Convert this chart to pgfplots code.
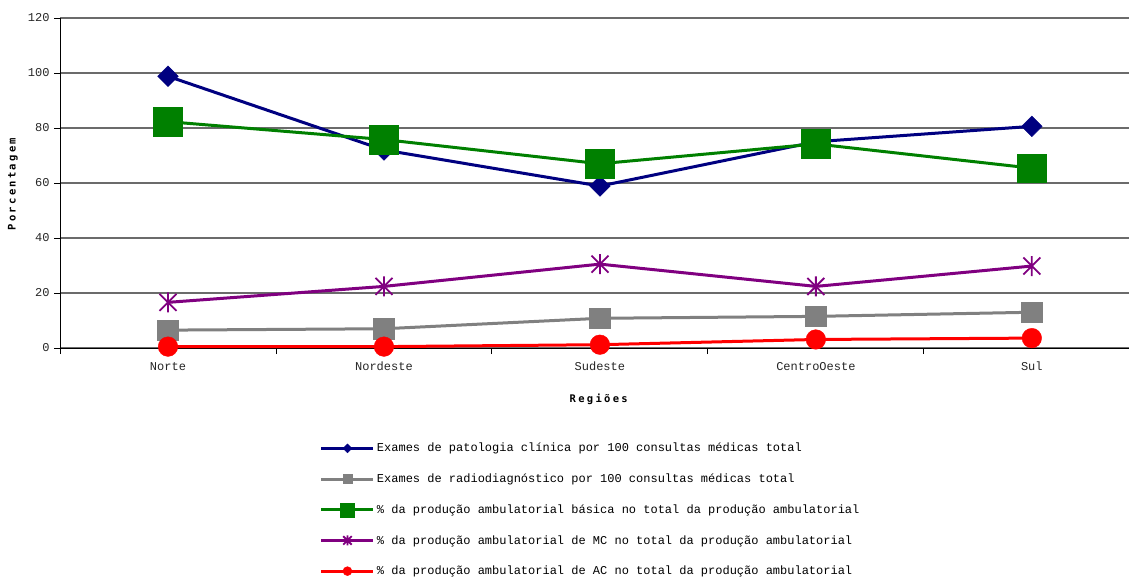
\documentclass[border=0pt]{standalone}
\usepackage{pgfplots}
\pgfplotsset{compat=1.18}
\usepackage{fontspec}
\setmainfont{Liberation Mono}
\newfontfamily\ticksfont{Liberation Mono}
\newfontfamily\labfont[LetterSpace=22]{DejaVu Sans Mono}

\definecolor{cBlue}{HTML}{000080}
\definecolor{cGray}{HTML}{808080}
\definecolor{cGreen}{HTML}{008000}
\definecolor{cPurple}{HTML}{800080}
\definecolor{cRed}{HTML}{FF0000}

% star marker: vertical bar plus a diagonal cross
\pgfdeclareplotmark{xstar}{%
  \pgfpathmoveto{\pgfqpoint{0pt}{\pgfplotmarksize}}%
  \pgfpathlineto{\pgfqpoint{0pt}{-\pgfplotmarksize}}%
  \pgfpathmoveto{\pgfqpoint{-.85\pgfplotmarksize}{.85\pgfplotmarksize}}%
  \pgfpathlineto{\pgfqpoint{.85\pgfplotmarksize}{-.85\pgfplotmarksize}}%
  \pgfpathmoveto{\pgfqpoint{-.85\pgfplotmarksize}{-.85\pgfplotmarksize}}%
  \pgfpathlineto{\pgfqpoint{.85\pgfplotmarksize}{.85\pgfplotmarksize}}%
  \pgfusepathqstroke
}

\pgfplotsset{
  legline/.style={
    legend image code/.code={
      \draw[##1,mark=none] (0pt,0pt) -- (52pt,0pt);
      \draw[##1,only marks,mark size=#1] plot coordinates {(26pt,0pt)};
    }
  }
}

\begin{document}
\begin{tikzpicture}
\useasboundingbox (0,0) rectangle (1129pt,581pt);
\begin{axis}[
  at={(60pt,233pt)}, anchor=south west,
  scale only axis,
  width=1069pt, height=330pt,
  xmin=-0.5, xmax=4.45,
  ymin=0, ymax=120,
  axis x line=bottom, axis y line=left,
  axis line style={black, line width=0.9pt, -},
  xtick={0,1,2,3,4},
  xticklabels={Norte,Nordeste,Sudeste,CentroOeste,Sul},
  major x tick style={draw=none},
  minor xtick={-0.5,0.5,1.5,2.5,3.5},
  minor x tick style={black, line width=0.9pt},
  minor tick length=6pt,
  ytick={0,20,...,120},
  y tick style={black, line width=0.9pt},
  major tick length=6pt,
  tick align=outside,
  ymajorgrids,
  major grid style={black!58, line width=1.1pt},
  /pgf/number format/assume math mode=true,
  tick label style={font=\ticksfont\fontsize{12}{14}\selectfont, text=black!85},
  xticklabel style={yshift=-5pt, text height=8pt, text depth=2pt},
  yticklabel style={xshift=-1pt},
  xlabel={\textbf{Regiões}},
  ylabel={\textbf{Porcentagem}},
  xlabel style={at={(0.505,-0.155)}, anchor=center, font=\labfont\fontsize{10.5}{13}\selectfont},
  ylabel style={at={(-0.044,0.5)}, anchor=center, font=\labfont\fontsize{10.5}{13}\selectfont},
  every axis plot/.append style={line width=3pt},
  legend cell align=left,
  legend style={
    at={(0.243,-0.282)}, anchor=north west,
    draw=none, fill=none,
    font=\fontsize{12}{14}\selectfont,
    row sep=16.5pt,
    inner sep=0pt,
    /tikz/every even column/.append style={column sep=3pt},
  },
]
\addplot[color=cBlue, line width=3pt, mark=square*, mark size=7.3pt, mark options={rotate=45, solid, line width=0.4pt}, legline=3.2pt]
  coordinates {(0,98.8) (1,72.0) (2,58.9) (3,75.0) (4,80.6)};
\addlegendentry{Exames de patologia clínica por 100 consultas médicas total}

\addplot[color=cGray, line width=3pt, mark=square*, mark size=10.3pt, mark options={line width=0.4pt}, legline=4.5pt]
  coordinates {(0,6.5) (1,7.0) (2,10.8) (3,11.5) (4,13.0)};
\addlegendentry{Exames de radiodiagnóstico por 100 consultas médicas total}

\addplot[color=cGreen, line width=3pt, mark=square*, mark size=14.3pt, mark options={line width=0.4pt}, legline=7pt]
  coordinates {(0,82.3) (1,75.8) (2,67.0) (3,74.2) (4,65.4)};
\addlegendentry{\% da produção ambulatorial básica no total da produção ambulatorial}

\addplot[color=cPurple, line width=3pt, mark=xstar, mark size=10pt, mark options={line width=1.8pt}, legline=5pt]
  coordinates {(0,16.6) (1,22.4) (2,30.5) (3,22.4) (4,29.8)};
\addlegendentry{\% da produção ambulatorial de MC no total da produção ambulatorial}

\addplot[color=cRed, line width=3pt, mark=*, mark size=9.8pt, mark options={line width=0.4pt}, legline=4.5pt]
  coordinates {(0,0.5) (1,0.5) (2,1.2) (3,3.1) (4,3.6)};
\addlegendentry{\% da produção ambulatorial de AC no total da produção ambulatorial}
\end{axis}
\end{tikzpicture}
\end{document}
